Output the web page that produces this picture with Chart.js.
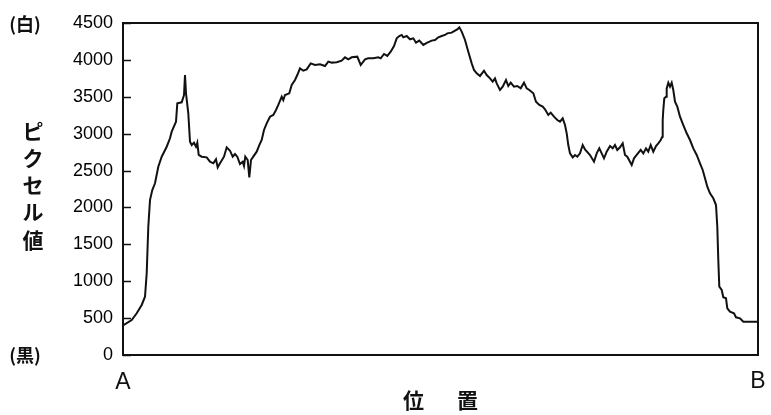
<!DOCTYPE html>
<html>
<head>
<meta charset="utf-8">
<script src="https://cdn.jsdelivr.net/npm/chart.js@4/dist/chart.umd.min.js"></script>
<style>
  html, body { margin: 0; padding: 0; background: #fff; }
  #wrap { width: 771px; height: 415px; position: relative; }
</style>
</head>
<body>
<div id="wrap"><canvas id="c" width="771" height="415"></canvas></div>
<script>
// Scan position along the line A → B
const position = [
  0, 8.7, 13.7, 18.7, 22, 23.7, 25.3, 27, 29.3, 32, 35.3, 38.7, 43.7, 47, 48.7, 53, 54.3, 58.7, 61, 62,
  63, 65.3, 67, 68.7, 71, 73, 74.3, 75.7, 78.7, 83.7, 87, 90.3, 93, 94.7, 97, 101, 103.7, 107, 109.7, 112,
  114.3, 117, 119.7, 121, 122.3, 124.7, 126.3, 128, 130.3, 133.7, 136.3, 138.7, 141, 143.7, 147, 150.3, 153, 155.3, 158.7, 160.3,
  162, 166.3, 168.7, 172, 174.3, 177, 180.3, 183.7, 187.7, 192, 197, 202, 205.3, 208.7, 213.7, 218.7, 222, 225.3, 228.7, 234.3,
  237.7, 242, 245.3, 250.3, 255.3, 257.7, 261, 264.3, 267.7, 271, 273.7, 276.3, 278.7, 280.3, 283.7, 287, 290.3, 293, 296.3, 300.3,
  304.3, 308.7, 312, 315.3, 318.7, 322, 324.3, 328.7, 332, 334.3, 336.3, 338.7, 342, 345.3, 348.7, 351, 353.7, 357, 361, 363.7,
  367, 369.7, 372, 373.7, 377, 379.7, 383, 385.3, 387.7, 391, 394.3, 397.7, 401, 403.7, 406.3, 410.3, 413, 416.3, 419.7, 422,
  425.3, 427.7, 431, 434.3, 437, 439.7, 442, 443.7, 445.3, 447, 449.7, 452, 454.3, 457, 459.7, 462, 467, 471, 473.7, 476.3,
  478.7, 481, 483.7, 487, 489.7, 492, 494.3, 497, 499.7, 502, 504.3, 508.7, 511, 513.7, 517.7, 520.3, 523, 525.3, 527.7, 530.3,
  533, 535.3, 537.7, 539.3, 539.7, 540.3, 541.3, 543, 543.7, 545.3, 547, 548.7, 550.3, 552, 554.3, 557, 560.3, 563.7, 567, 570.3,
  573.7, 577, 579.7, 582, 584.3, 587, 590.3, 593, 594.3, 595.3, 596.3, 598.7, 600.3, 603, 604.3, 607, 611, 613, 617, 620.3,
  627, 634.3
];

// Pixel value at each position
const pixelValue = [
  400, 474, 565, 678, 790, 1107, 1739, 2100, 2236, 2327, 2552, 2688, 2823, 2937, 3027, 3162, 3411, 3425, 3524, 3795,
  3547, 3276, 2891, 2846, 2877, 2823, 2877, 2711, 2688, 2679, 2620, 2598, 2652, 2543, 2598, 2688, 2815, 2769, 2688, 2724,
  2688, 2589, 2620, 2562, 2688, 2643, 2408, 2643, 2688, 2756, 2846, 2914, 3050, 3140, 3230, 3253, 3321, 3389, 3501, 3456,
  3524, 3547, 3660, 3727, 3795, 3885, 3853, 3871, 3953, 3931, 3940, 3917, 3976, 3963, 3967, 3989, 4035, 4008, 4035, 4044,
  3931, 4008, 4021, 4021, 4035, 4021, 4080, 4053, 4111, 4188, 4292, 4324, 4338, 4306, 4324, 4279, 4292, 4233, 4261, 4202,
  4233, 4261, 4270, 4306, 4324, 4338, 4360, 4369, 4396, 4414, 4441, 4383, 4270, 4111, 3953, 3863, 3818, 3782, 3853, 3795,
  3750, 3705, 3750, 3682, 3592, 3637, 3727, 3646, 3691, 3637, 3646, 3614, 3691, 3614, 3592, 3547, 3433, 3389, 3366, 3330,
  3253, 3285, 3230, 3185, 3162, 3208, 3117, 3005, 2846, 2733, 2679, 2711, 2688, 2733, 2846, 2787, 2711, 2620, 2733, 2801,
  2733, 2666, 2756, 2833, 2801, 2846, 2779, 2815, 2869, 2711, 2688, 2575, 2666, 2711, 2779, 2733, 2801, 2756, 2846, 2756,
  2833, 2869, 2914, 2959, 3185, 3321, 3479, 3501, 3614, 3691, 3637, 3691, 3592, 3433, 3366, 3230, 3117, 3005, 2914, 2801,
  2711, 2598, 2508, 2395, 2281, 2191, 2124, 2033, 1739, 1288, 926, 881, 782, 768, 633, 587, 565, 511, 497, 452,
  452, 452
];

// Y axis tick values
const yTicks = [0, 500, 1000, 1500, 2000, 2500, 3000, 3500, 4000, 4500];

const axisTitle = ['ピ', 'ク', 'セ', 'ル', '値'];
const axisTitleY = [131, 158, 185, 212, 240];
const endLabels = ['A', 'B'];
const xTitle = ['位', '置'];
const levelLabels = ['(白)', '(黒)'];

const points = position.map((p, i) => ({ x: p, y: pixelValue[i] }));

const INK = '#111';
const NUM_FAMILY = '"Liberation Sans", Arial, sans-serif';
const CJK_FONT = 'bold 21px "Noto Sans CJK JP", sans-serif';

// Frame, inward ticks and the surrounding labels
const decor = {
  id: 'decor',
  afterDraw(chart) {
    const { ctx, chartArea: a, scales } = chart;
    const y = scales.y, x = scales.x;
    ctx.save();
    ctx.strokeStyle = INK;
    ctx.lineWidth = 2;
    ctx.strokeRect(a.left, a.top, a.right - a.left, a.bottom - a.top);

    ctx.lineWidth = 1.5;
    yTicks.forEach(v => {
      const py = Math.round(y.getPixelForValue(v)) + 0.5;
      ctx.beginPath();
      ctx.moveTo(a.left, py);
      ctx.lineTo(a.left + 8, py);
      ctx.stroke();
    });

    ctx.fillStyle = INK;
    ctx.textBaseline = 'middle';
    ctx.textAlign = 'center';
    ctx.font = 'bold 18px "Noto Sans CJK JP", sans-serif';
    ctx.fillText(levelLabels[0], 25, y.getPixelForValue(4500) + 1);
    ctx.fillText(levelLabels[1], 25, y.getPixelForValue(0));

    ctx.font = CJK_FONT;
    axisTitle.forEach((ch, i) => ctx.fillText(ch, 33, axisTitleY[i]));

    ctx.font = '23px ' + NUM_FAMILY;
    ctx.fillText(endLabels[0], x.getPixelForValue(0), 383);
    ctx.fillText(endLabels[1], x.getPixelForValue(635), 382);

    ctx.font = CJK_FONT;
    const mid = (a.left + a.right) / 2;
    ctx.fillText(xTitle[0], mid - 27, 400);
    ctx.fillText(xTitle[1], mid + 27, 400);
    ctx.restore();
  }
};

new Chart(document.getElementById('c'), {
  type: 'line',
  data: {
    datasets: [{
      data: points,
      borderColor: INK,
      borderWidth: 2,
      pointRadius: 0,
      tension: 0,
      fill: false
    }]
  },
  options: {
    responsive: false,
    animation: false,
    devicePixelRatio: 1,
    layout: { padding: { left: 0, top: 23, right: 13, bottom: 60 } },
    plugins: { legend: { display: false }, tooltip: { enabled: false } },
    scales: {
      x: { type: 'linear', min: 0, max: 635, display: false },
      y: {
        min: 0, max: 4500,
        afterFit(scale) { scale.width = 123; },
        afterBuildTicks(scale) { scale.ticks = yTicks.map(v => ({ value: v })); },
        grid: { display: false, drawTicks: false },
        border: { display: false },
        ticks: {
          padding: 10,
          color: '#000',
          font: { family: NUM_FAMILY, size: 18 },
          callback: v => String(v)
        }
      }
    }
  },
  plugins: [decor]
});
</script>
</body>
</html>
